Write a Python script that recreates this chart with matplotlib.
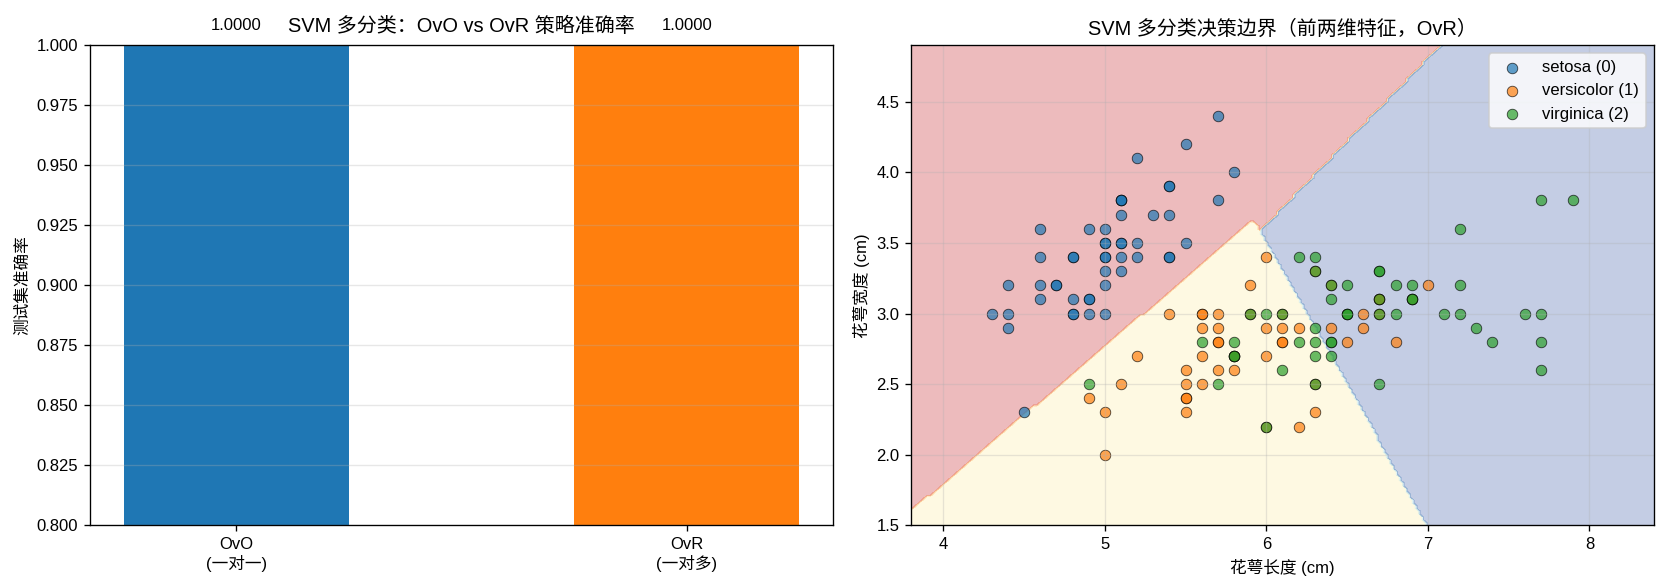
import numpy as np
import matplotlib
matplotlib.use("Agg")
import matplotlib.pyplot as plt

plt.rcParams["font.family"] = ["Liberation Sans", "Noto Sans CJK SC"]
plt.rcParams["axes.unicode_minus"] = False

# ------------------------------------------------------------
# 数据
# ------------------------------------------------------------
strategies = ["OvO\n(一对一)", "OvR\n(一对多)"]
accuracies = [1.0, 1.0]
bar_colors = ["#1f77b4", "#ff7f0e"]

class_names = ["setosa (0)", "versicolor (1)", "virginica (2)"]
class_colors = ["tab:blue", "tab:orange", "tab:green"]

# iris 前两维 (花萼长度, 花萼宽度)
setosa_len = [5.1, 4.9, 4.7, 4.6, 5.0, 5.4, 4.6, 5.0, 4.4, 4.9, 5.4, 4.8, 4.8, 4.3, 5.8, 5.7, 5.4,
              5.1, 5.7, 5.1, 5.4, 5.1, 4.6, 5.1, 4.8, 5.0, 5.0, 5.2, 5.2, 4.7, 4.8, 5.4, 5.2, 5.5,
              4.9, 5.0, 5.5, 4.9, 4.4, 5.1, 5.0, 4.5, 4.4, 5.0, 5.1, 4.8, 5.1, 4.6, 5.3, 5.0]
setosa_wid = [3.5, 3.0, 3.2, 3.1, 3.6, 3.9, 3.4, 3.4, 2.9, 3.1, 3.7, 3.4, 3.0, 3.0, 4.0, 4.4, 3.9,
              3.5, 3.8, 3.8, 3.4, 3.7, 3.6, 3.3, 3.4, 3.0, 3.4, 3.5, 3.4, 3.2, 3.1, 3.4, 4.1, 4.2,
              3.1, 3.2, 3.5, 3.6, 3.0, 3.4, 3.5, 2.3, 3.2, 3.5, 3.8, 3.0, 3.8, 3.2, 3.7, 3.3]
versicolor_len = [7.0, 6.4, 6.9, 5.5, 6.5, 5.7, 6.3, 4.9, 6.6, 5.2, 5.0, 5.9, 6.0, 6.1, 5.6, 6.7, 5.6,
                  5.8, 6.2, 5.6, 5.9, 6.1, 6.3, 6.1, 6.4, 6.6, 6.8, 6.7, 6.0, 5.7, 5.5, 5.5, 5.8, 6.0,
                  5.4, 6.0, 6.7, 6.3, 5.6, 5.5, 5.5, 6.1, 5.8, 5.0, 5.6, 5.7, 5.7, 6.2, 5.1, 5.7]
versicolor_wid = [3.2, 3.2, 3.1, 2.3, 2.8, 2.8, 3.3, 2.4, 2.9, 2.7, 2.0, 3.0, 2.2, 2.9, 2.9, 3.1, 3.0,
                  2.7, 2.2, 2.5, 3.2, 2.8, 2.5, 2.8, 2.9, 3.0, 2.8, 3.0, 2.9, 2.6, 2.4, 2.4, 2.7, 2.7,
                  3.0, 3.4, 3.1, 2.3, 3.0, 2.5, 2.6, 3.0, 2.6, 2.3, 2.7, 3.0, 2.9, 2.9, 2.5, 2.8]
virginica_len = [6.3, 5.8, 7.1, 6.3, 6.5, 7.6, 4.9, 7.3, 6.7, 7.2, 6.5, 6.4, 6.8, 5.7, 5.8, 6.4, 6.5,
                 7.7, 7.7, 6.0, 6.9, 5.6, 7.7, 6.3, 6.7, 7.2, 6.2, 6.1, 6.4, 7.2, 7.4, 7.9, 6.4, 6.3,
                 6.1, 7.7, 6.3, 6.4, 6.0, 6.9, 6.7, 6.9, 5.8, 6.8, 6.7, 6.7, 6.3, 6.5, 6.2, 5.9]
virginica_wid = [3.3, 2.7, 3.0, 2.9, 3.0, 3.0, 2.5, 2.9, 2.5, 3.6, 3.2, 2.7, 3.0, 2.5, 2.8, 3.2, 3.0,
                 3.8, 2.6, 2.2, 3.2, 2.8, 2.8, 2.7, 3.3, 3.2, 2.8, 3.0, 2.8, 3.0, 2.8, 3.8, 2.8, 2.8,
                 2.6, 3.0, 3.4, 3.1, 3.0, 3.1, 3.1, 3.1, 2.7, 3.2, 3.3, 3.0, 2.5, 3.0, 3.4, 3.0]

# 两两线性判别边界 (从图中估计): y = y0 + slope * (x - x0)，线上方归 upper 类
pair_classes = [(0, 1), (0, 2), (1, 2)]
pair_x0 = [3.8, 5.958, 5.958]
pair_y0 = [1.603, 3.58, 3.592]
pair_slope = [0.97, 1.175, -2.011]
pair_upper = [0, 0, 2]

# ------------------------------------------------------------
fig, (ax1, ax2) = plt.subplots(1, 2, figsize=(1666 / 120, 587 / 120), dpi=120)
fig.subplots_adjust(left=0.054, right=0.9928, bottom=0.1048, top=0.9233, wspace=0.105)

# --- 左图：准确率对比 ---
x_pos = np.arange(len(strategies))
ax1.bar(x_pos, accuracies, color=bar_colors, width=0.5)
for xp, acc in zip(x_pos, accuracies):
    ax1.text(xp, acc + 0.005, f"{acc:.4f}", ha="center", va="bottom", fontsize=10)
ax1.set_xticks(x_pos)
ax1.set_xticklabels(strategies)
ax1.set_ylim(0.8, 1.0)
ax1.set_ylabel("测试集准确率")
ax1.set_title("SVM 多分类：OvO vs OvR 策略准确率", fontsize=12, pad=8)
ax1.grid(axis="y", alpha=0.3)

# --- 右图：决策边界 ---
all_len = setosa_len + versicolor_len + virginica_len
all_wid = setosa_wid + versicolor_wid + virginica_wid
x_min, x_max = min(all_len) - 0.5, max(all_len) + 0.5
y_min, y_max = min(all_wid) - 0.5, max(all_wid) + 0.5
h = 0.02
xx, yy = np.meshgrid(np.arange(x_min, x_max, h), np.arange(y_min, y_max, h))

votes = np.zeros((3,) + xx.shape)
for (ci, cj), x0, y0, k, up in zip(pair_classes, pair_x0, pair_y0, pair_slope, pair_upper):
    above = yy > y0 + k * (xx - x0)
    other = cj if up == ci else ci
    votes[up] += above
    votes[other] += ~above
Z = np.argmax(votes, axis=0)

ax2.contourf(xx, yy, Z, alpha=0.3, cmap=plt.cm.RdYlBu)

groups = [(setosa_len, setosa_wid), (versicolor_len, versicolor_wid), (virginica_len, virginica_wid)]
for (gx, gy), name, col in zip(groups, class_names, class_colors):
    ax2.scatter(gx, gy, c=col, label=name, edgecolor="k", linewidth=0.5, alpha=0.7, s=40)

ax2.set_xlabel("花萼长度 (cm)")
ax2.set_ylabel("花萼宽度 (cm)")
ax2.set_title("SVM 多分类决策边界（前两维特征，OvR）", fontsize=12)
ax2.legend(loc="upper right")
ax2.grid(alpha=0.3)

plt.savefig("out.png", dpi=120)
